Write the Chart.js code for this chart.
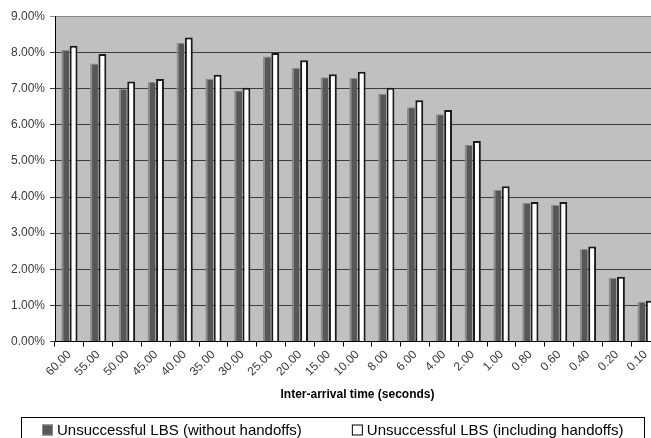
<!DOCTYPE html>
<html>
<head>
<meta charset="utf-8">
<script src="https://cdn.jsdelivr.net/npm/chart.js@4.4.1/dist/chart.umd.min.js"></script>
<style>
  html, body { margin: 0; padding: 0; background: #ffffff; overflow: hidden; }
  #wrap { width: 665px; height: 438px; }
</style>
</head>
<body>
<div id="wrap"><canvas id="c" width="665" height="438"></canvas></div>
<script>
// Inter-arrival times (seconds) on the category axis
const categories = ['60.00', '55.00', '50.00', '45.00', '40.00', '35.00', '30.00', '25.00', '20.00', '15.00',
                    '10.00', '8.00', '6.00', '4.00', '2.00', '1.00', '0.80', '0.60', '0.40', '0.20', '0.10'];

// Percentage of unsuccessful LBS requests
const withoutHandoffs = [8.07, 7.70, 6.99, 7.19, 8.27, 7.27, 6.95, 7.89, 7.58, 7.32,
                         7.30, 6.86, 6.49, 6.29, 5.45, 4.20, 3.84, 3.78, 2.56, 1.76, 1.10];
const includingHandoffs = [8.19, 7.96, 7.20, 7.27, 8.42, 7.39, 7.03, 7.99, 7.79, 7.40,
                           7.47, 7.03, 6.68, 6.41, 5.55, 4.30, 3.86, 3.86, 2.63, 1.79, 1.13];

const seriesNames = ['Unsuccessful LBS (without handoffs)', 'Unsuccessful LBS (including handoffs)'];
const xAxisTitle = 'Inter-arrival time (seconds)';
const yTicks = [0, 1, 2, 3, 4, 5, 6, 7, 8, 9];

const FONT = '"Liberation Sans", Arial, sans-serif';

// grey plot background
const plotBackground = {
  id: 'plotBackground',
  beforeDraw(chart) {
    const { ctx, chartArea: a } = chart;
    ctx.save();
    ctx.fillStyle = '#c0c0c0';
    ctx.fillRect(a.left, a.top, a.right - a.left, a.bottom - a.top);
    ctx.restore();
  }
};

// boxed legend under the axis title
const boxedLegend = {
  id: 'boxedLegend',
  afterDraw(chart) {
    const ctx = chart.ctx;
    ctx.save();
    ctx.strokeStyle = '#000';
    ctx.lineWidth = 1;
    ctx.strokeRect(21.5, 417.5, 623, 40);
    ctx.font = '15px ' + FONT;
    ctx.textBaseline = 'middle';
    const sq = 11, gap = 4, spacing = 50;
    const ds = chart.data.datasets;
    const widths = ds.map(d => ctx.measureText(d.label).width);
    const total = widths.reduce((s, w) => s + w + sq + gap, 0) + spacing;
    let x = Math.round(333 - total / 2);
    const y = 430;
    ds.forEach((d, i) => {
      ctx.fillStyle = d.backgroundColor;
      ctx.fillRect(x, y - sq / 2, sq, sq);
      ctx.strokeStyle = i === 0 ? '#8c8c8c' : '#000';
      ctx.strokeRect(x + 0.5, y - sq / 2 + 0.5, sq - 1, sq - 1);
      ctx.fillStyle = '#000';
      ctx.fillText(d.label, x + sq + gap, y + 1);
      x += sq + gap + widths[i] + spacing;
    });
    ctx.restore();
  }
};

new Chart(document.getElementById('c'), {
  type: 'bar',
  data: {
    labels: categories,
    datasets: [
      {
        label: seriesNames[0],
        data: withoutHandoffs,
        backgroundColor: '#575757',
        borderColor: '#8c8c8c',
        borderWidth: { top: 1, left: 2, right: 0, bottom: 0 },
        borderSkipped: false,
        categoryPercentage: 0.58,
        barPercentage: 0.94
      },
      {
        label: seriesNames[1],
        data: includingHandoffs,
        backgroundColor: '#ffffff',
        borderColor: '#1a1a1a',
        borderWidth: { top: 2, left: 2, right: 2, bottom: 0 },
        borderSkipped: false,
        categoryPercentage: 0.58,
        barPercentage: 0.94
      }
    ]
  },
  options: {
    responsive: false,
    animation: false,
    events: [],
    layout: { padding: { top: 16.5, right: 5, bottom: 33, left: 0 } },
    plugins: {
      legend: { display: false },
      tooltip: { enabled: false }
    },
    scales: {
      x: {
        afterFit(scale) { scale.height = 63.5; },
        grid: {
          display: true,
          offset: true,
          drawOnChartArea: false,
          drawTicks: true,
          tickLength: 5,
          color: '#000'
        },
        border: { display: true, color: '#000', width: 1 },
        ticks: {
          minRotation: 45,
          maxRotation: 45,
          autoSkip: false,
          padding: 1,
          color: '#3a3a3a',
          font: { family: FONT, size: 12 }
        },
        title: {
          display: true,
          text: xAxisTitle,
          color: '#000',
          padding: { top: 0, bottom: 3 },
          font: { family: FONT, size: 12, weight: 'bold' }
        }
      },
      y: {
        min: 0,
        max: 9,
        afterFit(scale) { scale.width = 55; },
        afterBuildTicks(scale) { scale.ticks = yTicks.map(v => ({ value: v })); },
        grid: {
          color: ctx => (ctx.tick && ctx.tick.value === 9 ? '#8c8c8c' : '#3c3c3c'),
          lineWidth: 1,
          drawTicks: true,
          tickLength: 5
        },
        border: { display: true, color: '#000', width: 1 },
        ticks: {
          padding: 5,
          color: '#3a3a3a',
          font: { family: FONT, size: 12 },
          callback: v => v.toFixed(2) + '%'
        }
      }
    }
  },
  plugins: [plotBackground, boxedLegend]
});
</script>
</body>
</html>
